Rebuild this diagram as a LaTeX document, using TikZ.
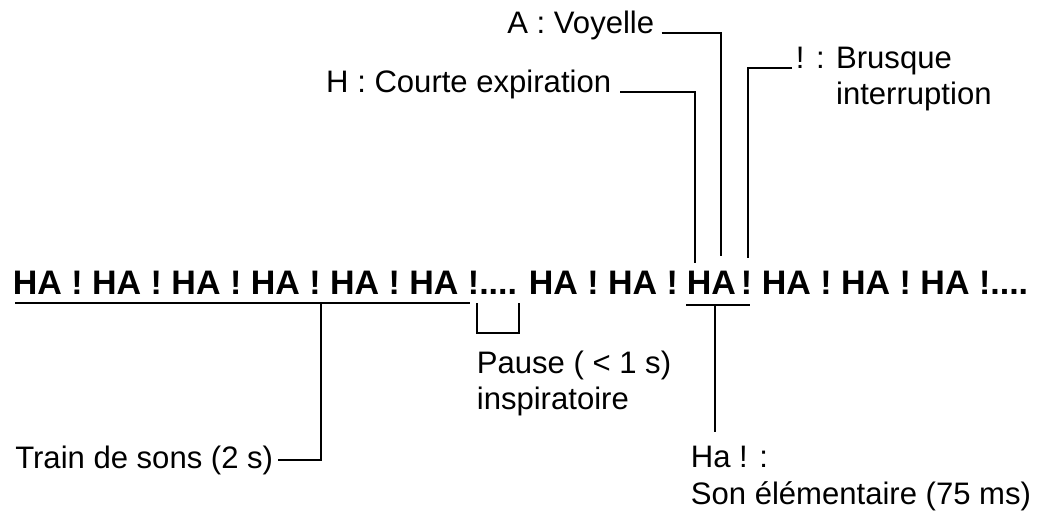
\documentclass[tikz,border=0pt]{standalone}
\usepackage{fontspec}
\setmainfont{Liberation Sans}
\usetikzlibrary{calc}

\begin{document}
\begin{tikzpicture}[x=0.75pt,y=-0.75pt,line width=1.3pt,
  haha/.style={anchor=base west,inner sep=0pt,font=\fontsize{25.5}{30}\selectfont\bfseries},
  lab/.style={inner sep=0pt,font=\fontsize{23.3}{27}\selectfont}]
\useasboundingbox (0,0) rectangle (1044,514);
% la chaine des HA !
\node[haha] (train1) at (12,294) {HA ! HA ! HA ! HA ! HA ! HA !....};
\node[haha] (train2) at (528,294) {HA ! HA !};
\node[haha] (ha) at (686,294) {HA};
\node[haha] (bang) at (740,294) {!};
\node[haha] (train3) at (761,294) {HA ! HA ! HA !....};
% les legendes
\node[lab,anchor=base east] (lvoy) at (655,33) {A : Voyelle};
\node[lab,anchor=base east] (lexp) at (612,92) {H : Courte expiration};
\node[lab,anchor=north west,align=left] (lbrus) at (795,46) {! : Brusque\\\phantom{! : }interruption};
\node[lab,anchor=east] (ltrain) at (274,460) {Train de sons (2 s)};
\node[lab,anchor=north west,align=left] (lpause) at (476,350) {Pause ( < 1 s)\\inspiratoire};
\node[lab,anchor=north west,align=left] (lson) at (690,445) {Ha ! :\\[1pt]Son élémentaire (75 ms)};
% points d'attache
\coordinate (stemA) at (721,256);
\coordinate (stemH) at (695,263);
\coordinate (stemB) at (748,258);
\coordinate (bstart) at (792,68);
\coordinate (u1) at (15,303);
\coordinate (u2) at (470,303);
\coordinate (utrain) at (321,303);
\coordinate (p1) at (477,303);
\coordinate (p2) at (519,303);
\coordinate (uha1) at (686,305);
\coordinate (uha2) at (750,305);
\coordinate (uha) at (715,305);
\coordinate (hason) at (715,432);
% traits
\draw ([xshift=5]lvoy.base east) -| (stemA);
\draw ([xshift=6]lexp.base east) -| (stemH);
\draw (bstart) -| (stemB);
\draw (u1) -- (u2);
\draw (utrain) |- ([xshift=3]ltrain.east);
\draw (p1) -- ++(0,30) -| (p2);
\draw (uha1) -- (uha2);
\draw (uha) -- (hason);
\end{tikzpicture}
\end{document}
